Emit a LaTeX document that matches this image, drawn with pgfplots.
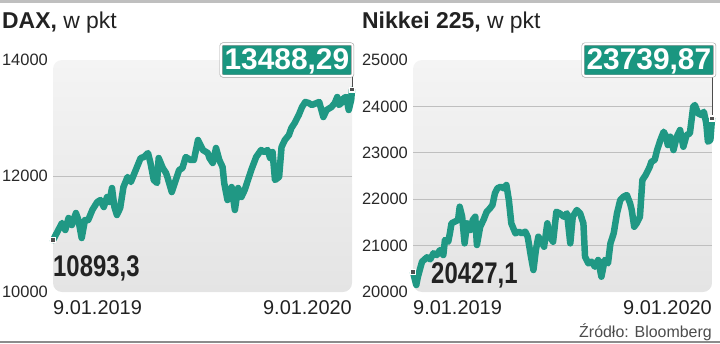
\documentclass[border=0pt]{standalone}
\usepackage{pgfplots}
\pgfplotsset{compat=1.18}
\usepackage{pgfplotstable}
\usepackage{fontspec}
\setmainfont{Liberation Sans}
\usepackage{graphicx}

\definecolor{lineteal}{RGB}{32,152,132}
\definecolor{boxteal}{RGB}{26,150,128}
\definecolor{bgtop}{RGB}{244,244,244}
\definecolor{bgbot}{RGB}{228,228,228}
\definecolor{txt}{RGB}{34,34,34}
\definecolor{ticktxt}{RGB}{40,40,40}
\definecolor{mk}{RGB}{80,80,80}

\pgfplotstableread{
day value
0 10893.3
11 11190
15 11069
19 11276
23 11155
28 11362
31 11241
35 10931
39 11241
43 11241
48 11414
54 11552
58 11586
62 11465
66 11638
69 11552
72 11793
75 11465
78 11328
82 11448
86 11810
91 11983
95 11896
101 12103
107 12310
111 12327
116 12396
119 12224
123 11931
127 11879
129 12310
134 12138
138 12052
140 11965
145 11724
149 11896
154 12103
158 12138
162 12327
168 12276
172 12276
177 12620
183 12448
189 12396
191 12310
195 12224
199 12483
203 12276
207 12155
209 11879
213 11586
218 11810
222 11414
226 11793
230 11638
234 11759
238 11931
242 12103
248 12327
254 12448
258 12414
262 12448
265 12310
268 12414
271 11931
276 11983
279 12500
283 12620
288 12707
291 12828
295 12914
300 13052
304 13190
308 13276
312 13259
316 13224
322 13259
325 13276
330 13017
334 13138
340 13190
344 13259
347 13362
349 13224
352 13259
355 13345
358 13362
361 13138
364 13310
365 13488.29
}\daxdata

\pgfplotstableread{
day value
0 20427.1
4 20151
6 20330
11 20653
17 20748
21 20705
25 20834
29 20797
33 20905
37 20797
39 21121
43 21084
45 21265
47 21480
51 21515
55 21552
57 21838
60 21623
63 21049
66 21480
70 21336
73 21552
76 21623
78 21013
82 21407
86 21552
90 21730
94 21804
97 21875
100 22127
103 22235
107 22269
111 22235
114 22306
117 21983
120 21480
125 21265
129 21300
133 21265
137 21300
140 21192
144 20761
147 20474
150 20905
153 21192
157 21084
160 20976
164 21480
167 21192
171 21084
175 21730
179 21696
184 21623
188 21696
192 21049
195 21623
200 21767
204 21696
208 21480
210 20761
214 20618
218 20653
222 20545
226 20690
230 20330
234 20690
238 20618
241 21049
245 21265
249 21696
253 21983
257 22054
261 22090
265 21911
267 21767
270 21407
273 21480
277 21623
280 22414
284 22521
289 22700
291 22808
295 22845
298 23060
302 23276
306 23454
309 23347
311 23168
314 23347
318 23060
322 23347
326 23491
330 23131
334 23383
338 23420
342 23993
344 24030
348 23851
352 23814
355 23885
358 23635
360 23239
363 23276
365 23739.87
}\nikkeidata

\pgfplotsset{
  panel/.style={
    scale only axis, width=299bp, height=232bp,
    xmin=0, xmax=365, clip=false,
    axis line style={draw=none}, major tick length=0pt,
    xtick=\empty, scaled y ticks=false,
    axis background/.style={top color=bgtop, bottom color=bgbot, rounded corners=9bp},
    yticklabel style={font=\fontsize{16.5}{18}\selectfont, text=ticktxt, inner sep=0pt, xshift=-5bp},
    grid style={draw=black!25, line width=0.9bp},
    extra y tick style={grid=major},
  },
  serie/.style={draw=lineteal, line width=6.5bp, line join=round, line cap=round, no marks},
  endmark/.style={only marks, mark=square*, mark size=2.4bp, mark options={fill=mk, draw=white, line width=1.4bp}},
}
\tikzset{
  valbox/.style={anchor=east, fill=boxteal, draw=black!35, double=white, double distance=1.8bp, line width=0.6bp,
    rounded corners=2bp, inner xsep=3.5bp, inner ysep=3.5bp, text height=22bp, text depth=3bp,
    text=white, font=\bfseries\fontsize{30}{30}\selectfont},
  startlbl/.style={anchor=base west, inner sep=0pt, text=txt, font=\bfseries\fontsize{30}{30}\selectfont},
}

\begin{document}
\begin{tikzpicture}[x=1bp, y=1bp]
\useasboundingbox (0,0) rectangle (720,343);
\draw[black!25, line width=3bp] (0,341.5) -- (720,341.5);
\draw[black!45, line width=1.2bp] (0,1) -- (720,1);

% titles
\node[anchor=base west, inner sep=0pt, text=txt, font=\fontsize{23}{26}\selectfont] at (2,315) {\textbf{DAX,} w pkt};
\node[anchor=base west, inner sep=0pt, text=txt, font=\fontsize{23}{26}\selectfont] at (362,315) {\textbf{Nikkei 225,} w pkt};

% DAX
\begin{axis}[panel, at={(53bp,51bp)}, anchor=south west,
  ymin=10000, ymax=14000, ytick={10000,12000,14000}, yticklabels={10000,12000,14000},
  extra y ticks={12000}, extra y tick labels={}]
\addplot[serie] table[x=day, y=value] {\daxdata};
\draw[black!70, line width=0.8bp] (axis cs:365,13488.29) -- (rel axis cs:1,1);
\addplot[endmark] coordinates {(0,10893.3) (365,13488.29)};
\node[valbox, xshift=1bp] at (rel axis cs:1,1) {13488,29};
\node[startlbl, yshift=-36bp] at (axis cs:0,10893.3) {\scalebox{0.8}[1]{10893,3}};
\node[anchor=north west, inner sep=0pt, yshift=-8bp, text=txt, font=\fontsize{20}{22}\selectfont] at (rel axis cs:0,0) {9.01.2019};
\node[anchor=north east, inner sep=0pt, yshift=-8bp, text=txt, font=\fontsize{20}{22}\selectfont] at (rel axis cs:1,0) {9.01.2020};
\end{axis}

% Nikkei
\begin{axis}[panel, at={(413bp,51bp)}, anchor=south west,
  ymin=20000, ymax=25000, ytick={20000,21000,22000,23000,24000,25000},
  yticklabels={20000,21000,22000,23000,24000,25000},
  extra y ticks={21000,22000,23000,24000}, extra y tick labels={}]
\addplot[serie] table[x=day, y=value] {\nikkeidata};
\draw[black!70, line width=0.8bp] (axis cs:365,23739.87) -- (rel axis cs:1,1);
\addplot[endmark] coordinates {(0,20427.1) (365,23739.87)};
\node[valbox, xshift=3bp] at (rel axis cs:1,1) {23739,87};
\node[startlbl, xshift=18bp, yshift=-11bp] at (axis cs:0,20427.1) {\scalebox{0.8}[1]{20427,1}};
\node[anchor=north west, inner sep=0pt, yshift=-8bp, text=txt, font=\fontsize{20}{22}\selectfont] at (rel axis cs:0,0) {9.01.2019};
\node[anchor=north east, inner sep=0pt, yshift=-8bp, text=txt, font=\fontsize{20}{22}\selectfont] at (rel axis cs:1,0) {9.01.2020};
\end{axis}

\node[anchor=base east, inner sep=0pt, text=black!70, font=\fontsize{16}{18}\selectfont] at (712,6) {Źródło: Bloomberg};
\end{tikzpicture}
\end{document}
